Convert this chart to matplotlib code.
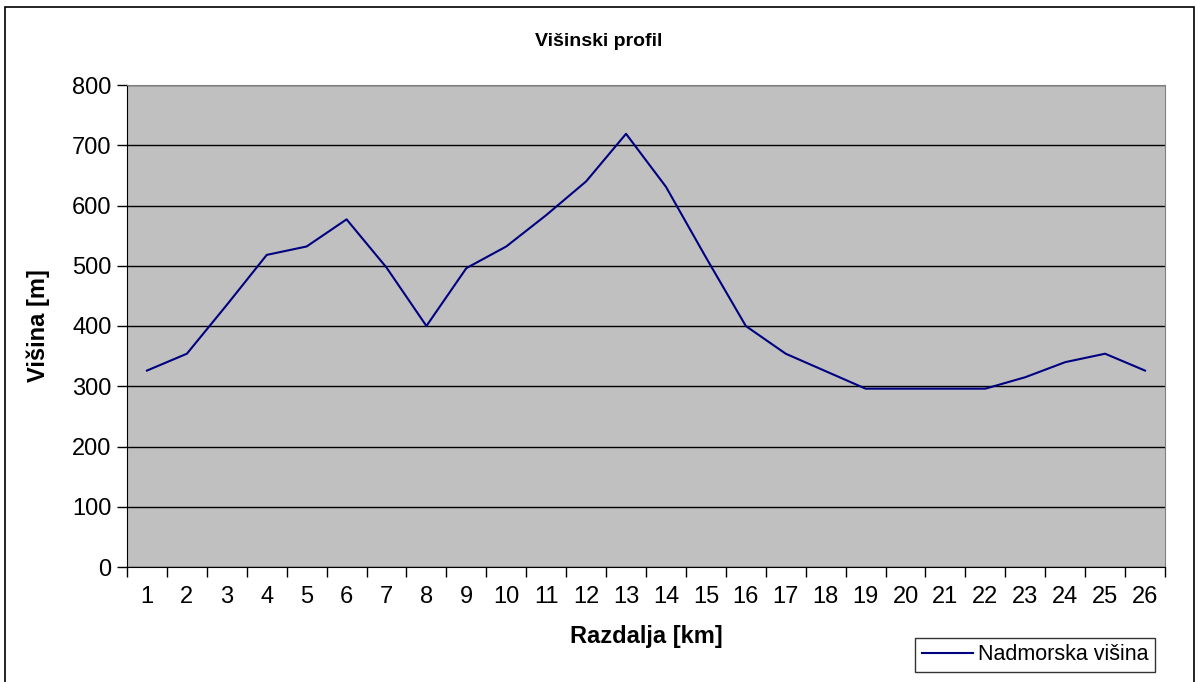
import matplotlib.pyplot as plt
import numpy as np
from matplotlib.patches import Rectangle

plt.rcParams['font.family'] = ['Liberation Sans', 'DejaVu Sans']

# razdalja [km] in nadmorska visina [m]
km = list(range(1, 27))
visina = [326, 354, 435, 518, 532, 577, 497, 400, 496, 532, 584, 640, 719, 631,
          514, 400, 354, 325, 296, 296, 296, 296, 315, 340, 354, 326]
y_ticks = [0, 100, 200, 300, 400, 500, 600, 700, 800]

fig = plt.figure(figsize=(11.98, 6.82), dpi=100)
ax = fig.add_axes([127 / 1198, 1 - 567 / 682, (1165 - 127) / 1198, (567 - 85) / 682])

ax.set_facecolor('#c0c0c0')
ax.plot(km, visina, color='#000080', lw=1.5, label='Nadmorska višina')

ax.set_xlim(0.5, 26.5)
ax.set_ylim(0, 800)
ax.set_yticks(y_ticks)
ax.set_xticks(np.arange(0.5, 27, 1))
ax.set_xticklabels([])
ax.set_xticks(km, minor=True)
ax.set_xticklabels([str(k) for k in km], minor=True)
ax.tick_params(axis='x', which='major', length=7, width=1, direction='out')
ax.tick_params(axis='x', which='minor', length=0, pad=14, labelsize=17)
ax.tick_params(axis='y', length=7, width=1, labelsize=17, pad=4)
ax.yaxis.grid(True, color='black', lw=1)
ax.set_axisbelow(True)

for s in ['top', 'right']:
    ax.spines[s].set_color('#808080')
ax.spines['left'].set_color('black')
ax.spines['bottom'].set_color('black')

ax.set_xlabel('Razdalja [km]', fontsize=17, fontweight='bold', labelpad=12)
ax.set_ylabel('Višina [m]', fontsize=17, fontweight='bold', labelpad=16)
fig.text(0.5, 1 - 42 / 682, 'Višinski profil', ha='center', va='center',
         fontsize=14, fontweight='bold')

leg = ax.legend(loc='center', bbox_to_anchor=(1035 / 1198, 1 - 655 / 682),
                bbox_transform=fig.transFigure, fontsize=15.5, frameon=True,
                fancybox=False, edgecolor='black', handlelength=2.4,
                handletextpad=0.2, borderpad=0.3, borderaxespad=0)
leg.get_frame().set_linewidth(1)

# okvir grafa (spodnji rob je izven slike)
fig.patches.append(Rectangle((5 / 1198, -10 / 682), 1189 / 1198, 685 / 682,
                             transform=fig.transFigure, fill=False,
                             edgecolor='black', lw=1.2))

fig.savefig('out.png', dpi=100)
